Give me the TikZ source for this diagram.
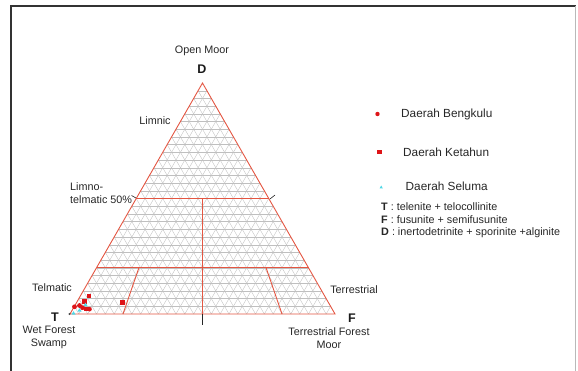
\documentclass[tikz,border=0pt]{standalone}
\usepackage{xcolor}
\usepackage{fontspec}
\setmainfont{Liberation Sans}
\usetikzlibrary{calc}
\definecolor{ternred}{RGB}{228,86,66}
\definecolor{ptred}{RGB}{222,20,24}
\definecolor{selcyan}{RGB}{80,215,230}

\begin{document}
\begin{tikzpicture}[x=1pt,y=-1pt,
    gridline/.style={gray!50,line width=0.35pt},
    zone/.style={ternred,line width=0.9pt},
    lbl/.style={font=\fontsize{10.8}{12.5}\selectfont,text=black!85,inner sep=0pt},
    big/.style={font=\fontsize{11.8}{13}\selectfont,text=black!85,inner sep=0pt},
    corner/.style={font=\fontsize{12.5}{13}\selectfont\bfseries,text=black!90,inner sep=0pt}]
\useasboundingbox (0,0) rectangle (578,371);
% frame of the figure
\draw[black!80,line width=1.6pt] (11,371) -- (11,6) -- (576,6);
\draw[gray!55,line width=0.6pt] (575.5,6) -- (575.5,371);

\coordinate (T) at (70,314);
\coordinate (F) at (335,314);
\coordinate (D) at (202.5,83);

% grid, 30 steps
\foreach \i in {1,...,29} {
  \draw[gridline] ($(T)!\i/30!(D)$) -- ($(F)!\i/30!(D)$);
  \draw[gridline] ($(T)!\i/30!(F)$) -- ($(D)!\i/30!(F)$);
  \draw[gridline] ($(F)!\i/30!(T)$) -- ($(D)!\i/30!(T)$);
}

\coordinate (M) at ($(T)!0.5!(F)$);
\coordinate (L) at ($(T)!0.2!(F)$);
\coordinate (R) at ($(T)!0.8!(F)$);
    \draw[zone] ($(T)!0.5!(D)$) -- ($(F)!0.5!(D)$);
    \draw[zone] ($(T)!0.2!(D)$) -- ($(F)!0.2!(D)$);
    \draw[zone] (M) -- ($(M)!0.5!(D)$);
    \draw[zone] (L) -- ($(L)!0.2!(D)$);
    \draw[zone] (R) -- ($(R)!0.2!(D)$);
\draw[zone,line join=miter] (T) -- (F) -- (D) -- cycle;

% small black ticks
\draw[black!85,line width=0.6pt] (M) -- ++(0,11);
\draw[black!85,line width=0.6pt] (270,199) -- (275,195);
\draw[black!85,line width=0.6pt] (136,198) -- (131.5,195.5);
\fill[black!70] (69.5,314) circle (1.2);

% samples
\fill[ptred] (89,296) ++(-2.3,-2.3) rectangle ++(4.6,4.6);
\fill[ptred] (84.5,301.5) ++(-2.3,-2.3) rectangle ++(4.6,4.6);
\fill[ptred] (79.5,305.5) circle (2.4);
\fill[ptred] (74.5,306.8) circle (2.4);
\fill[ptred] (82.5,307.7) circle (2.4);
\fill[ptred] (86.7,309) ++(-2.3,-2.3) rectangle ++(4.6,4.6);
\fill[ptred] (89.5,309.2) circle (2.3);
\fill[ptred] (122.5,302.5) ++(-2.4,-2.4) rectangle ++(4.8,4.8);
\fill[selcyan] (77.5,311.5) -- ++(2,-3.4) -- ++(2,3.4) -- cycle;
\fill[selcyan] (83.5,306) -- ++(2,-3.4) -- ++(2,3.4) -- cycle;
\fill[selcyan] (71.5,314.5) -- ++(2,-3.4) -- ++(2,3.4) -- cycle;

% labels round the triangle
\node[lbl] (openmoor) at (202,51) {Open Moor};
\node[corner] (dtop) at (202,69) {D};
\node[lbl] (limnic) at (155,121) {Limnic};
\node[lbl,align=left,anchor=west] (limno) at (70,193.3) {Limno-\\telmatic 50\%};
\node[lbl,anchor=west] (telmatic) at (32,287.5) {Telmatic};
\node[corner] (tleft) at (55,317.5) {T};
\node[lbl,align=center] (wetforest) at (49,337.5) {Wet Forest\\Swamp};
\node[lbl] (terr) at (354,289.5) {Terrestrial};
\node[corner] (fright) at (352,318) {F};
\node[lbl,align=center] (terrforest) at (329,338) {Terrestrial Forest\\Moor};

% legend
\fill[ptred] (377.5,114) circle (2.2);
\node[big,anchor=west] (bengkulu) at (401,114) {Daerah Bengkulu};
\fill[ptred] (379.5,152) ++(-2.4,-2.4) rectangle ++(4.8,4.8);
\node[big,anchor=west] (ketahun) at (403,152) {Daerah Ketahun};
\fill[selcyan] (379.5,188.5) -- ++(1.7,-3) -- ++(1.7,3) -- cycle;
\node[big,anchor=west] (seluma) at (405.5,186) {Daerah Seluma};
\node[lbl,anchor=west] (defT) at (381,206.5) {\textbf{T} : telenite + telocollinite};
\node[lbl,anchor=west] (defF) at (381,219.5) {\textbf{F} : fusunite + semifusunite};
\node[lbl,anchor=west] (defD) at (381,232.5) {\textbf{D} : inertodetrinite + sporinite +alginite};
\end{tikzpicture}
\end{document}
